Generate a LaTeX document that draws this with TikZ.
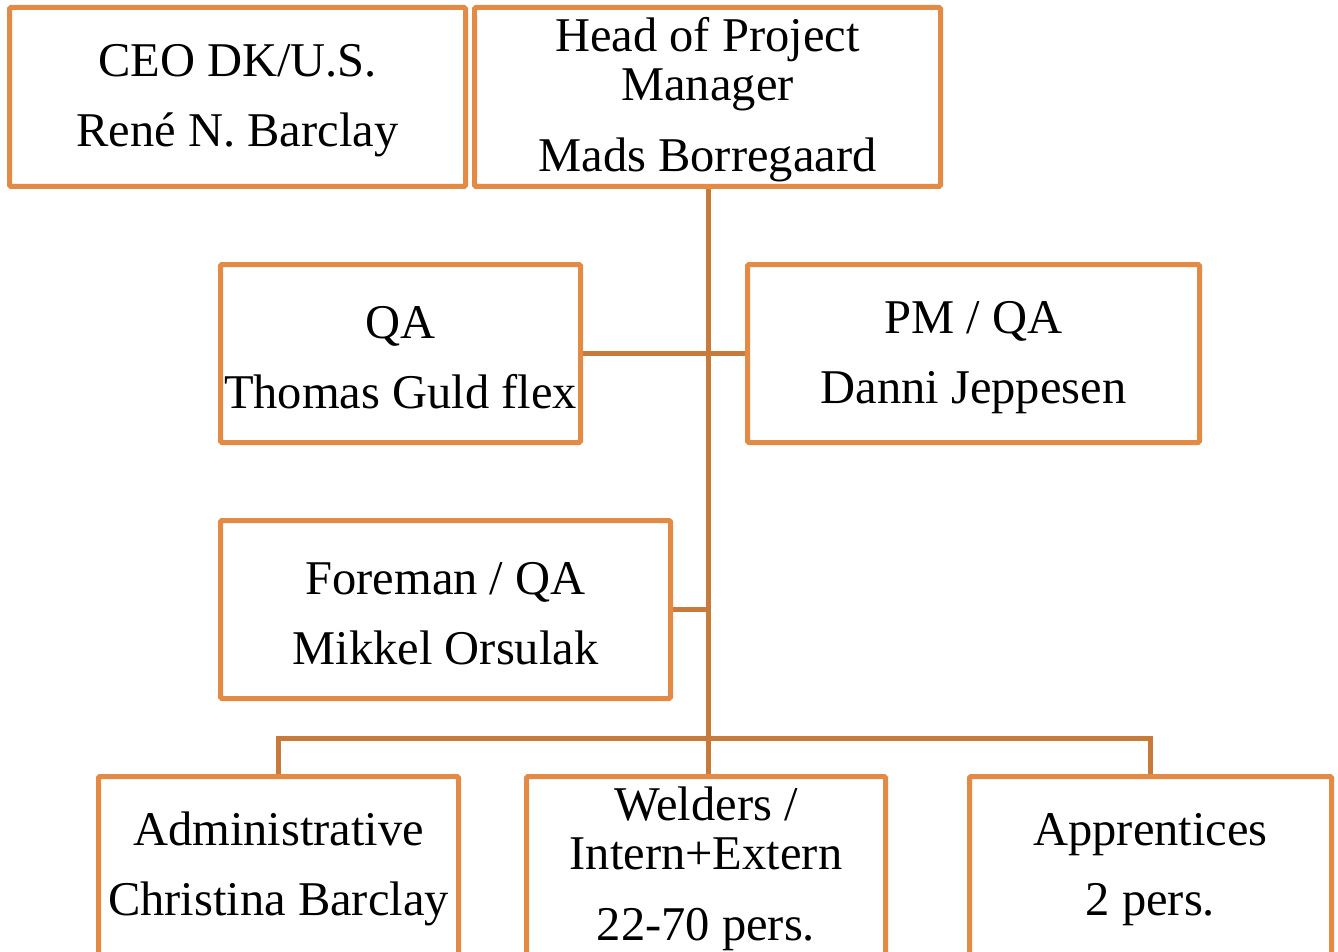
\documentclass[tikz,border=0pt]{standalone}
\usepackage{fontspec}
\setmainfont{Liberation Serif}
\usetikzlibrary{backgrounds}
\definecolor{boxor}{HTML}{E38B45}
\definecolor{lineor}{HTML}{C77A3A}
\newcommand{\topstrut}{\rule{0pt}{40pt}}
\begin{document}
\begin{tikzpicture}[x=1pt,y=-1pt,
  orgbox/.style={draw=boxor,line width=5pt,fill=white,rounded corners=1.5pt,
    align=center,inner sep=0pt,
    font=\fontsize{48.5}{49}\selectfont},
  conn/.style={draw=lineor,line width=5pt}]
\useasboundingbox (0,0) rectangle (1338,952);
\clip (0,0) rectangle (1338,952);
% boxes
\node[orgbox,minimum width=456pt,minimum height=179pt] (ceo) at (237.5,97) {\topstrut CEO DK/U.S.\\[21pt]René N. Barclay};
\node[orgbox,minimum width=466pt,minimum height=179pt] (head) at (707.5,97) {\topstrut Head of Project\\Manager\\[22pt]Mads Borregaard};
\node[orgbox,minimum width=360pt,minimum height=178pt] (qa) at (400.5,353.5) {\topstrut QA\\[21pt]Thomas Guld flex};
\node[orgbox,minimum width=452pt,minimum height=178pt] (pm) at (973.5,353.5) {\topstrut PM / QA\\[21pt]Danni Jeppesen};
\node[orgbox,minimum width=450pt,minimum height=178pt] (fore) at (445.5,609.5) {\topstrut Foreman / QA\\[21pt]Mikkel Orsulak};
\node[orgbox,minimum width=360pt,minimum height=179pt] (admin) at (278.5,866) {\topstrut Administrative\\[21pt]Christina Barclay};
\node[orgbox,minimum width=359pt,minimum height=179pt] (weld) at (706,866) {\topstrut Welders /\\Intern+Extern\\[22pt]22-70 pers.};
\node[orgbox,minimum width=362pt,minimum height=179pt] (app) at (1150.5,866) {\topstrut Apprentices\\[21pt]2 pers.};
\coordinate (bus) at (708,738);
% connectors behind the boxes
\begin{scope}[on background layer]
\draw[conn] (head.south -| bus) -- (bus);
\draw[conn] (qa.east) -- (pm.west);
\draw[conn] (fore.east) -- (fore.east -| bus);
\draw[conn] (admin.north) |- (bus) -| (app.north);
\draw[conn] (bus) -- (bus |- weld.north);
\end{scope}
\end{tikzpicture}
\end{document}
